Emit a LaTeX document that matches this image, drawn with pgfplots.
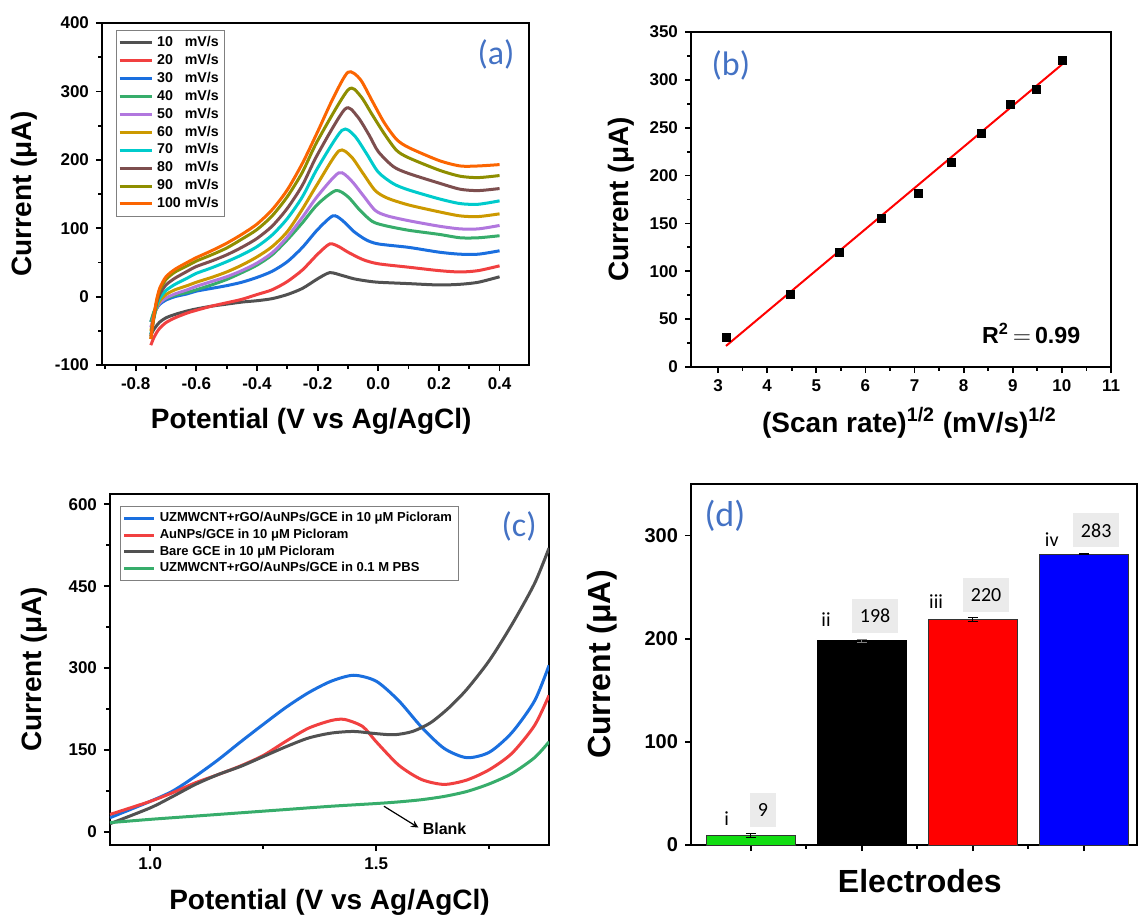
\documentclass[border=0pt]{standalone}
\usepackage{pgfplots}
\pgfplotsset{compat=1.18}
\usepackage{fontspec}
\setmainfont{Liberation Sans}
\newfontfamily\calibri{Carlito}
\definecolor{oA}{HTML}{515151}
\definecolor{oB}{HTML}{F14040}
\definecolor{oC}{HTML}{1A6FDF}
\definecolor{oD}{HTML}{37AD6B}
\definecolor{oE}{HTML}{B177DE}
\definecolor{oF}{HTML}{CC9900}
\definecolor{oG}{HTML}{00CBCC}
\definecolor{oH}{HTML}{7D4E4E}
\definecolor{oI}{HTML}{8E8E00}
\definecolor{oJ}{HTML}{FB6501}
\definecolor{plab}{HTML}{4472C4}
\definecolor{boxgray}{HTML}{EBEBEB}
\definecolor{dgreen}{HTML}{11DD11}
\pgfplotsset{
  panel/.style={scale only axis, anchor=north west,
    axis line style={line width=1.4pt},
    tick style={line width=0.9pt, black},
    tick align=outside, tick pos=left,
    major tick length=3pt, minor tick length=1.8pt,
    ticklabel style={font=\fontsize{8.5}{10}\selectfont\bfseries},
    /pgf/number format/assume math mode=true,
    label style={font=\fontsize{14}{16}\selectfont\bfseries},
  },
  cv/.style={line width=1.5pt, smooth, tension=0.45},
}
\begin{document}
\begin{tikzpicture}
\useasboundingbox (0pt,0pt) rectangle (570pt,-461pt);

% ---------------- (a)
\begin{axis}[panel, at={(51pt,-11.5pt)}, width=213.5pt, height=171pt,
  xmin=-0.911, xmax=0.497, ymin=-100, ymax=400,
  xtick={-0.8,-0.6,-0.4,-0.2,0,0.2,0.4},
  minor xtick={-0.9,-0.7,-0.5,-0.3,-0.1,0.1,0.3},
  ytick={-100,0,100,200,300,400}, minor ytick={-50,50,150,250,350},
  xticklabel style={/pgf/number format/.cd, fixed, fixed zerofill, precision=1},
  xlabel={Potential (V vs Ag/AgCl)}, ylabel={Current (μA)},
  xlabel style={at={(axis description cs:0.49,-0.164)}, anchor=center},
  ylabel style={at={(axis description cs:-0.183,0.5)}, anchor=center},
  legend cell align=left,
  legend style={at={(0.032,0.980)}, anchor=north west, draw=gray, line width=0.5pt,
    fill=white, font=\fontsize{7.1}{8.4}\selectfont\bfseries, inner sep=1pt, row sep=-1.7pt},
  legend image code/.code={\draw[#1] (0pt,0pt) -- (16pt,0pt);},
]
\addplot[oA, cv] coordinates {(-0.75,-56) (-0.74,-48) (-0.73,-42) (-0.72,-37) (-0.70,-31) (-0.67,-26) (-0.63,-21) (-0.6,-18) (-0.55,-14) (-0.5,-11) (-0.45,-8) (-0.4,-6) (-0.35,-3) (-0.3,3) (-0.25,12) (-0.2,26) (-0.16,35) (-0.12,31) (-0.08,26) (-0.04,23) (0.0,21) (0.1,19) (0.2,17) (0.27,18) (0.33,21) (0.4,29)};
\addplot[oB, cv] coordinates {(-0.75,-71) (-0.74,-60) (-0.73,-52) (-0.72,-46) (-0.70,-38) (-0.67,-31) (-0.63,-24) (-0.6,-20) (-0.55,-14) (-0.5,-9) (-0.45,-4) (-0.4,3) (-0.35,10) (-0.3,22) (-0.25,39) (-0.2,62) (-0.16,77) (-0.13,73) (-0.1,65) (-0.05,54) (0.0,48) (0.1,43) (0.2,38) (0.27,36) (0.33,38) (0.4,45)};
\addplot[oC, cv] coordinates {(-0.75,-37) (-0.74,-25) (-0.73,-17) (-0.72,-11) (-0.70,-5) (-0.67,0) (-0.63,4) (-0.6,8) (-0.55,12) (-0.5,16) (-0.45,21) (-0.4,28) (-0.35,37) (-0.3,51) (-0.25,72) (-0.2,98) (-0.15,118) (-0.12,112) (-0.08,95) (-0.04,83) (0.0,77) (0.1,72) (0.2,65) (0.27,62) (0.33,62) (0.4,67)};
\addplot[oD, cv] coordinates {(-0.75,-37) (-0.74,-22) (-0.73,-14) (-0.72,-8) (-0.70,-3) (-0.67,2) (-0.63,6) (-0.6,10) (-0.55,17) (-0.5,25) (-0.45,35) (-0.4,46) (-0.35,61) (-0.3,83) (-0.25,108) (-0.2,135) (-0.14,155) (-0.1,146) (-0.06,126) (-0.02,110) (0.02,104) (0.1,97) (0.2,91) (0.27,86) (0.33,86) (0.4,89)};
\addplot[oE, cv] coordinates {(-0.75,-45) (-0.74,-28) (-0.73,-16) (-0.72,-9) (-0.70,-2) (-0.67,4) (-0.63,10) (-0.6,15) (-0.55,22) (-0.5,29) (-0.45,38) (-0.4,49) (-0.35,64) (-0.3,87) (-0.25,116) (-0.2,147) (-0.13,181) (-0.09,170) (-0.05,148) (-0.01,126) (0.03,118) (0.1,111) (0.2,103) (0.27,99) (0.33,99) (0.4,104)};
\addplot[oF, cv] coordinates {(-0.75,-50) (-0.74,-30) (-0.73,-15) (-0.72,-6) (-0.70,3) (-0.67,10) (-0.63,16) (-0.6,21) (-0.55,28) (-0.5,36) (-0.45,46) (-0.4,58) (-0.35,73) (-0.3,95) (-0.25,128) (-0.2,165) (-0.13,213) (-0.09,205) (-0.05,180) (-0.01,155) (0.03,144) (0.1,134) (0.2,124) (0.27,118) (0.33,117) (0.4,121)};
\addplot[oG, cv] coordinates {(-0.75,-55) (-0.74,-32) (-0.73,-12) (-0.72,-2) (-0.70,9) (-0.67,18) (-0.63,27) (-0.6,34) (-0.55,42) (-0.5,51) (-0.45,61) (-0.4,73) (-0.35,90) (-0.3,114) (-0.25,146) (-0.2,188) (-0.12,243) (-0.08,236) (-0.04,210) (0.0,182) (0.05,165) (0.1,156) (0.2,143) (0.27,136) (0.33,135) (0.4,140)};
\addplot[oH, cv] coordinates {(-0.75,-58) (-0.74,-30) (-0.73,-8) (-0.72,4) (-0.70,17) (-0.67,27) (-0.63,37) (-0.6,44) (-0.55,52) (-0.5,61) (-0.45,72) (-0.4,85) (-0.35,103) (-0.3,129) (-0.25,163) (-0.2,208) (-0.11,274) (-0.07,264) (-0.03,236) (0.0,212) (0.05,190) (0.1,180) (0.2,166) (0.27,157) (0.33,155) (0.4,158)};
\addplot[oI, cv] coordinates {(-0.75,-62) (-0.74,-30) (-0.73,-5) (-0.72,10) (-0.70,25) (-0.67,36) (-0.63,45) (-0.6,52) (-0.55,61) (-0.5,71) (-0.45,84) (-0.4,98) (-0.35,118) (-0.3,146) (-0.25,182) (-0.2,228) (-0.1,302) (-0.06,294) (-0.02,266) (0.02,238) (0.06,214) (0.1,203) (0.2,185) (0.27,176) (0.33,174) (0.4,177)};
\addplot[oJ, cv] coordinates {(-0.75,-62) (-0.74,-28) (-0.73,-3) (-0.72,13) (-0.70,29) (-0.67,40) (-0.63,50) (-0.6,57) (-0.55,67) (-0.5,78) (-0.45,91) (-0.4,106) (-0.35,127) (-0.3,156) (-0.25,195) (-0.2,241) (-0.15,289) (-0.1,328) (-0.06,318) (-0.02,286) (0.02,254) (0.06,230) (0.1,218) (0.2,199) (0.27,191) (0.33,191) (0.4,193)};
\legend{10\hphantom{0} mV/s, 20\hphantom{0} mV/s, 30\hphantom{0} mV/s, 40\hphantom{0} mV/s, 50\hphantom{0} mV/s, 60\hphantom{0} mV/s, 70\hphantom{0} mV/s, 80\hphantom{0} mV/s, 90\hphantom{0} mV/s, 100 mV/s}
\node[text=plab, font=\calibri\fontsize{17}{20}\selectfont] at (axis description cs:0.923,0.908) {(a)};
\end{axis}

% ---------------- (b)
\begin{axis}[panel, at={(345.5pt,-16pt)}, width=210pt, height=167.5pt,
  xmin=2.45, xmax=11, ymin=0, ymax=350,
  xtick={3,4,5,6,7,8,9,10,11}, minor xtick={3.5,4.5,5.5,6.5,7.5,8.5,9.5,10.5},
  ytick={0,50,100,150,200,250,300,350}, minor ytick={25,75,125,175,225,275,325},
  xlabel={(Scan rate)\textsuperscript{1/2} (mV/s)\textsuperscript{1/2}}, ylabel={Current (μA)},
  xlabel style={at={(axis description cs:0.52,-0.167)}, anchor=center},
  ylabel style={at={(axis description cs:-0.167,0.5)}, anchor=center},
]
\addplot[only marks, mark=square*, mark size=2pt, black] coordinates {(3.162,31) (4.472,76) (5.477,120) (6.325,155) (7.071,181) (7.746,214) (8.367,244) (8.944,274) (9.487,290) (10,320)};
\addplot[red, line width=1pt] coordinates {(3.162,22) (10,316)};
\node[font=\fontsize{11.6}{13}\selectfont\bfseries] at (axis description cs:0.81,0.101) {R\textsuperscript{2}\,$=$\,0.99};
\node[text=plab, font=\calibri\fontsize{17}{20}\selectfont] at (axis description cs:0.095,0.901) {(b)};
\end{axis}

% ---------------- (c)
\begin{axis}[panel, at={(55pt,-247pt)}, width=219.5pt, height=175.5pt,
  xmin=0.911, xmax=1.882, ymin=-24, ymax=619,
  xtick={1.0,1.5}, minor xtick={1.25,1.75},
  ytick={0,150,300,450,600}, minor ytick={75,225,375,525},
  xticklabel style={/pgf/number format/.cd, fixed, fixed zerofill, precision=1},
  xlabel={Potential (V vs Ag/AgCl)}, ylabel={Current (μA)},
  xlabel style={at={(axis description cs:0.5,-0.162)}, anchor=center},
  ylabel style={at={(axis description cs:-0.173,0.5)}, anchor=center},
  legend cell align=left,
  legend style={at={(0.0235,0.966)}, anchor=north west, draw=gray, line width=0.5pt,
    fill=white, font=\fontsize{6.5}{7.8}\selectfont\bfseries, inner sep=1pt, row sep=-1.9pt},
  legend image code/.code={\draw[#1] (0pt,0pt) -- (15pt,0pt);},
]
\addplot[oC, cv] coordinates {(0.911,26) (1.0,56) (1.05,75) (1.1,102) (1.15,132) (1.2,165) (1.25,197) (1.3,228) (1.35,255) (1.4,276) (1.45,287) (1.5,276) (1.55,240) (1.6,192) (1.65,153) (1.7,136) (1.75,146) (1.8,182) (1.85,240) (1.882,305)};
\addplot[oB, cv] coordinates {(0.911,32) (1.0,56) (1.05,72) (1.1,90) (1.15,105) (1.2,121) (1.25,140) (1.3,166) (1.35,190) (1.4,204) (1.43,206) (1.47,193) (1.5,165) (1.55,122) (1.6,96) (1.65,87) (1.7,95) (1.75,114) (1.8,144) (1.85,195) (1.882,250)};
\addplot[oA, cv] coordinates {(0.911,15) (1.0,44) (1.05,65) (1.1,87) (1.15,105) (1.2,120) (1.25,138) (1.3,156) (1.35,172) (1.4,181) (1.45,184) (1.5,180) (1.54,178) (1.58,184) (1.62,200) (1.66,227) (1.7,261) (1.75,314) (1.8,380) (1.85,455) (1.882,520)};
\addplot[oD, cv] coordinates {(0.911,17) (1.0,23) (1.1,29) (1.2,35) (1.3,41) (1.4,47) (1.5,52) (1.55,55) (1.6,59) (1.65,65) (1.7,74) (1.75,88) (1.8,107) (1.85,136) (1.882,165)};
\legend{UZMWCNT+rGO/AuNPs/GCE in 10 μM Picloram, AuNPs/GCE in 10 μM Picloram, Bare GCE in 10 μM Picloram, UZMWCNT+rGO/AuNPs/GCE in 0.1 M PBS}
\draw[-stealth, line width=0.6pt] (axis cs:1.517,47) -- (axis cs:1.593,8);
\node[anchor=west, inner sep=0pt, font=\fontsize{8}{9}\selectfont\bfseries] at (axis cs:1.602,5) {Blank};
\node[text=plab, font=\calibri\fontsize{17}{20}\selectfont] at (axis description cs:0.932,0.909) {(c)};
\end{axis}

% ---------------- (d)
\begin{axis}[panel, at={(345.5pt,-242pt)}, width=223pt, height=180.5pt,
  xmin=0.46, xmax=4.48, ymin=0, ymax=350,
  xtick={1,2,3,4}, xticklabels={}, minor xtick={1.5,2.5,3.5},
  ytick={0,100,200,300},
  ticklabel style={font=\fontsize{10}{12}\selectfont\bfseries},
  label style={font=\fontsize{16}{18}\selectfont\bfseries},
  xlabel={Electrodes}, ylabel={Current (μA)},
  xlabel style={at={(axis description cs:0.513,-0.099)}, anchor=center},
  ylabel style={at={(axis description cs:-0.2,0.5)}, anchor=center},
]
\addplot[ybar, bar width=0.8, bar shift=0pt, fill=dgreen, draw=black!80, line width=0.5pt,
  error bars/.cd, y dir=both, y explicit, error bar style={black, line width=0.5pt},
  error mark options={rotate=90, mark size=2.5pt, black, line width=0.5pt}] coordinates {(1,9) +- (0,2)};
\addplot[ybar, bar width=0.8, bar shift=0pt, fill=black, draw=black, line width=0.5pt,
  error bars/.cd, y dir=both, y explicit, error bar style={gray, line width=0.5pt},
  error mark options={rotate=90, mark size=2.5pt, gray, line width=0.5pt}] coordinates {(2,198) +- (0,1.2)};
\addplot[ybar, bar width=0.8, bar shift=0pt, fill=red, draw=black!80, line width=0.5pt,
  error bars/.cd, y dir=both, y explicit, error bar style={black, line width=0.5pt},
  error mark options={rotate=90, mark size=2.5pt, black, line width=0.5pt}] coordinates {(3,219) +- (0,2)};
\addplot[ybar, bar width=0.8, bar shift=0pt, fill=blue, draw=black!80, line width=0.5pt,
  error bars/.cd, y dir=both, y explicit, error bar style={black, line width=0.5pt},
  error mark options={rotate=90, mark size=2.5pt, black, line width=0.5pt}] coordinates {(4,282) +- (0,0.6)};
\begin{scope}[every node/.style={font=\calibri\fontsize{10}{12}\selectfont}]
\node at (axis cs:0.781,25.2) {i};
\node at (axis cs:1.677,219) {ii};
\node at (axis cs:2.669,235.7) {iii};
\node at (axis cs:3.712,296.3) {iv};
\node[fill=boxgray, inner xsep=4pt, minimum height=17pt] at (axis cs:1.109,34) {9};
\node[fill=boxgray, inner xsep=4pt, minimum height=17pt] at (axis cs:2.119,222) {198};
\node[fill=boxgray, inner xsep=4pt, minimum height=17pt] at (axis cs:3.12,242) {220};
\node[fill=boxgray, inner xsep=4pt, minimum height=17pt] at (axis cs:4.112,305) {283};
\end{scope}
\node[text=plab, font=\calibri\fontsize{18}{21}\selectfont] at (axis description cs:0.076,0.911) {(d)};
\end{axis}
\end{tikzpicture}
\end{document}
